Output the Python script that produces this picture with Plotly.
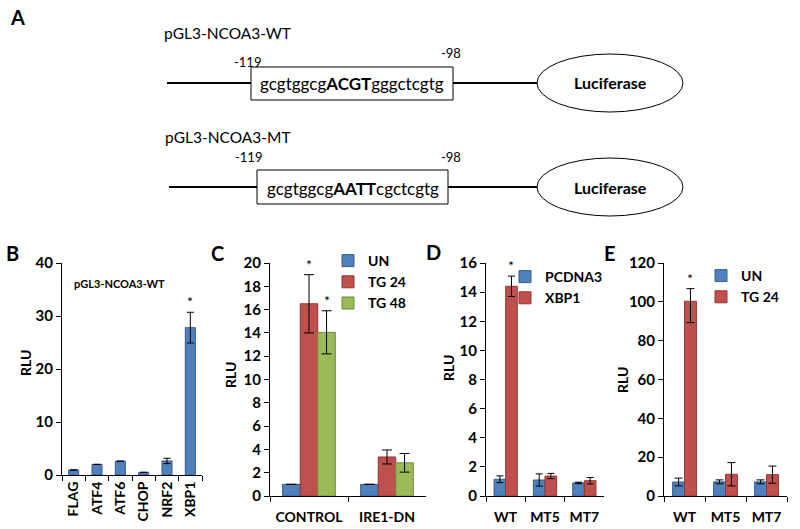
import plotly.graph_objects as go

# ---------------- data ----------------
b_cats = ['FLAG', 'ATF4', 'ATF6', 'CHOP', 'NRF2', 'XBP1']
b_vals = [0.95, 2.0, 2.6, 0.5, 2.65, 27.8]
b_err = [0, 0, 0, 0, 0.5, 2.9]

c_cats = ['CONTROL', 'IRE1-DN']
c_un = [1.0, 1.0]
c_un_err = [0, 0]
c_tg24 = [16.5, 3.35]
c_tg24_err = [2.5, 0.6]
c_tg48 = [14.05, 2.85]
c_tg48_err = [1.85, 0.8]

d_cats = ['WT', 'MT5', 'MT7']
d_pcdna3 = [1.15, 1.1, 0.9]
d_pcdna3_err = [0.23, 0.42, 0.05]
d_xbp1 = [14.4, 1.37, 1.05]
d_xbp1_err = [0.7, 0.18, 0.22]

e_cats = ['WT', 'MT5', 'MT7']
e_un = [7.2, 7.3, 7.3]
e_un_err = [2.0, 1.0, 1.0]
e_tg24 = [100.3, 11.2, 11.0]
e_tg24_err_plus = [6.5, 6.0, 4.4]
e_tg24_err_minus = [11.0, 6.0, 4.4]

seq_labels = ['pGL3-NCOA3-WT', 'pGL3-NCOA3-MT']
seq_core = [('gcgtggcg', 'ACGT', 'gggctcgtg'), ('gcgtggcg', 'AATT', 'cgctcgtg')]
pos_labels = ['-119', '-98']

BLUE, BLUE_L = '#4F81BD', '#385D8A'
RED, RED_L = '#C0504D', '#8C3836'
GREEN, GREEN_L = '#9BBB59', '#71893F'
FONT = 'Lato'

W, H = 800, 529
def px(x): return x / W
def py(y): return 1 - y / H

fig = go.Figure()

def err(a, w, minus=None):
    d = dict(type='data', array=a, visible=True, color='black', thickness=1, width=w)
    if minus is not None:
        d['symmetric'] = False
        d['arrayminus'] = minus
    return d

# B
fig.add_trace(go.Bar(x=b_cats, y=b_vals, error_y=err(b_err, 3.5), width=0.43,
                     marker=dict(color=BLUE, line=dict(color=BLUE_L, width=1)),
                     showlegend=False, xaxis='x', yaxis='y'))
# C
cw = 0.225
for name, vals, e, col, lc, off in [('UN', c_un, c_un_err, BLUE, BLUE_L, -1.5 * cw),
                                     ('TG 24', c_tg24, c_tg24_err, RED, RED_L, -0.5 * cw),
                                     ('TG 48', c_tg48, c_tg48_err, GREEN, GREEN_L, 0.5 * cw)]:
    fig.add_trace(go.Bar(x=c_cats, y=vals, name=name, error_y=err(e, 5), width=cw, offset=off,
                         marker=dict(color=col, line=dict(color=lc, width=1)),
                         xaxis='x2', yaxis='y2', legend='legend'))
# D
dw = 0.295
for name, vals, e, col, lc, off in [('PCDNA3', d_pcdna3, d_pcdna3_err, BLUE, BLUE_L, -dw),
                                     ('XBP1', d_xbp1, d_xbp1_err, RED, RED_L, 0)]:
    fig.add_trace(go.Bar(x=d_cats, y=vals, name=name, error_y=err(e, 3.5), width=dw, offset=off,
                         marker=dict(color=col, line=dict(color=lc, width=1)),
                         xaxis='x3', yaxis='y3', legend='legend2'))
# E
ew = 0.29
fig.add_trace(go.Bar(x=e_cats, y=e_un, name='UN', error_y=err(e_un_err, 4), width=ew, offset=-ew,
                     marker=dict(color=BLUE, line=dict(color=BLUE_L, width=1)),
                     xaxis='x4', yaxis='y4', legend='legend3'))
fig.add_trace(go.Bar(x=e_cats, y=e_tg24, name='TG 24', error_y=err(e_tg24_err_plus, 4, e_tg24_err_minus),
                     width=ew, offset=0,
                     marker=dict(color=RED, line=dict(color=RED_L, width=1)),
                     xaxis='x4', yaxis='y4', legend='legend3'))

tickf = dict(family=FONT, size=15, color='black', weight='bold')
def xax(dom, anchor, angle=0, size=14, standoff=8):
    return dict(domain=[px(dom[0]), px(dom[1])], anchor=anchor, type='category',
                showline=True, linecolor='black', linewidth=1, ticks='outside', ticklen=5,
                tickcolor='black', tickson='boundaries', showgrid=False, zeroline=False,
                automargin=False, ticklabelstandoff=standoff,
                tickangle=angle, tickfont=dict(family=FONT, size=size, color='black', weight='bold'))
def yax(dom, anchor, rng, dt):
    return dict(domain=[py(dom[1]), py(dom[0])], anchor=anchor, range=rng, dtick=dt,
                showline=True, linecolor='black', linewidth=1, ticks='outside', ticklen=5,
                tickcolor='black', showgrid=False, zeroline=False, tickfont=tickf,
                automargin=False)

leg_font = dict(family=FONT, size=14, color='black', weight='bold')
def leg(x, y):
    return dict(x=px(x), y=py(y), xanchor='left', yanchor='top', bgcolor='rgba(0,0,0,0)',
                font=leg_font, itemwidth=30, tracegroupgap=0)

fig.update_layout(
    template='none',
    width=W, height=H, margin=dict(l=0, r=0, t=0, b=0, autoexpand=False),
    paper_bgcolor='white', plot_bgcolor='white', barmode='group',
    xaxis=xax((62, 202), 'y', angle=-90, size=14, standoff=0), yaxis=yax((263, 475), 'x', [0, 40], 10),
    xaxis2=xax((270, 426), 'y2'), yaxis2=yax((263, 496), 'x2', [0, 20], 2),
    xaxis3=xax((486, 604), 'y3'), yaxis3=yax((263, 496), 'x3', [0, 16], 2),
    xaxis4=xax((664, 787), 'y4'), yaxis4=yax((263, 496), 'x4', [0, 120], 20),
    legend=leg(328, 245), legend2=leg(505, 261), legend3=leg(701, 260),
    font=dict(family=FONT, color='black'),
)

ann = []
def T(x, y, text, size, bold=False, angle=0, **kw):
    ann.append(dict(x=px(x), y=py(y), xref='paper', yref='paper', text=text, showarrow=False,
                    textangle=angle, xanchor=kw.get('xanchor', 'center'), yanchor='middle',
                    font=dict(family=FONT, size=size, color='black', weight='bold' if bold else 'normal')))

# panel letters
for L, x, y in [('A', 17, 17), ('B', 12, 253), ('C', 217, 253), ('D', 433, 252), ('E', 610, 253)]:
    T(x, y, L, 20, bold=True)
# RLU titles
for x, y in [(25, 363), (230, 375), (448, 368), (622, 380)]:
    T(x, y, 'RLU', 14, bold=True, angle=-90)
T(72, 283, 'pGL3-NCOA3-WT', 11, bold=True, xanchor='left')

# asterisks on data axes
def star(xref, yref, x, y):
    ann.append(dict(x=x, y=y, xref=xref, yref=yref, text='*', showarrow=False, yanchor='bottom',
                    yshift=0, font=dict(family=FONT, size=14, color='black')))
star('x', 'y', 5, b_vals[5] + b_err[5])
star('x2', 'y2', 0, c_tg24[0] + c_tg24_err[0])
star('x2', 'y2', 0 + cw, c_tg48[0] + c_tg48_err[0])
star('x3', 'y3', 0 + dw / 2, d_xbp1[0] + d_xbp1_err[0])
star('x4', 'y4', 0 + ew / 2, e_tg24[0] + e_tg24_err_plus[0])

# panel A diagram
shapes = []
rows = [dict(ly=83, lx0=167, bx0=251, bx1=453, by0=67, by1=100, lbl_y=33, pos_y=62, pos98_y=53),
        dict(ly=187, lx0=169, bx0=257, bx1=448, by0=170, by1=204, lbl_y=137, pos_y=157, pos98_y=157)]
for i, r in enumerate(rows):
    shapes.append(dict(type='line', xref='paper', yref='paper', x0=px(r['lx0']), x1=px(r['bx0']),
                       y0=py(r['ly']), y1=py(r['ly']), line=dict(color='black', width=2)))
    shapes.append(dict(type='line', xref='paper', yref='paper', x0=px(r['bx1']), x1=px(537),
                       y0=py(r['ly']), y1=py(r['ly']), line=dict(color='black', width=2)))
    shapes.append(dict(type='rect', xref='paper', yref='paper', x0=px(r['bx0']), x1=px(r['bx1']),
                       y0=py(r['by1']), y1=py(r['by0']), line=dict(color='black', width=1),
                       fillcolor='white'))
    shapes.append(dict(type='circle', xref='paper', yref='paper', x0=px(537), x1=px(683),
                       y0=py(r['ly'] + 29), y1=py(r['ly'] - 29), line=dict(color='black', width=1)))
    a, b, c = seq_core[i]
    T((r['bx0'] + r['bx1']) / 2, r['ly'] + 1, f'{a}<b>{b}</b>{c}', 17)
    T(610, r['ly'], 'Luciferase', 16, bold=True)
    T(228, r['lbl_y'], seq_labels[i], 15.5)
    T(r['bx0'] - 4 if i == 0 else r['bx0'] - 9, r['pos_y'], pos_labels[0], 13)
    T(451, r['pos98_y'], pos_labels[1], 13)

fig.update_layout(annotations=ann, shapes=shapes)
fig.write_html('out.html', config={'displayModeBar': False},
               post_script="document.body.style.margin='0';document.body.style.padding='0';")
